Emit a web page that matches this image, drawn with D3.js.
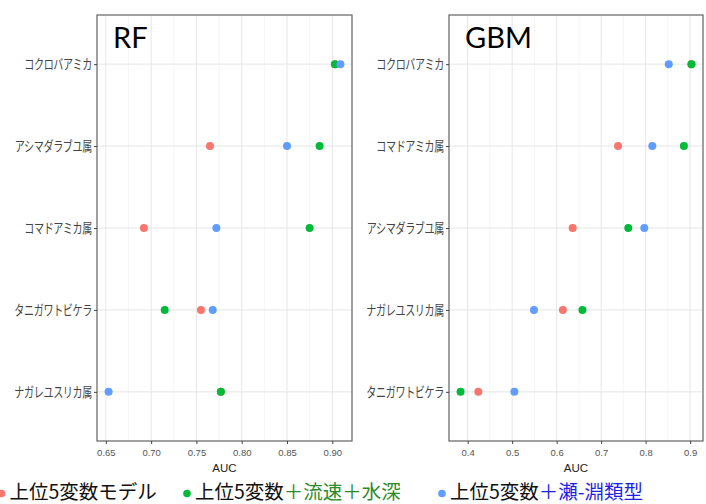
<!DOCTYPE html>
<html>
<head>
<meta charset="utf-8">
<script src="https://cdn.jsdelivr.net/npm/d3@7"></script>
<style>
  body { margin: 0; background: #fff; }
  svg { display: block; }
</style>
</head>
<body>
<div id="chart"></div>
<script>
// series (legend order)
const seriesNames = ['上位5変数モデル', '上位5変数＋流速＋水深', '上位5変数＋瀬-淵類型'];
const seriesColors = ['#F8766D', '#00BA38', '#619CFF'];

// RF panel, top to bottom
const rfCategories = ['コクロバアミカ', 'アシマダラブユ属', 'コマドアミカ属', 'タニガワトビケラ', 'ナガレユスリカ属'];
const rfBase = [0.903, 0.765, 0.692, 0.755, 0.777];
const rfFlow = [0.903, 0.886, 0.875, 0.715, 0.777];
const rfRiffle = [0.909, 0.850, 0.772, 0.768, 0.653];
const rfTicks = [0.65, 0.70, 0.75, 0.80, 0.85, 0.90];

// GBM panel, top to bottom
const gbmCategories = ['コクロバアミカ', 'コマドアミカ属', 'アシマダラブユ属', 'ナガレユスリカ属', 'タニガワトビケラ'];
const gbmBase = [0.903, 0.738, 0.636, 0.614, 0.424];
const gbmFlow = [0.903, 0.886, 0.761, 0.658, 0.384];
const gbmRiffle = [0.852, 0.815, 0.797, 0.549, 0.505];
const gbmTicks = [0.4, 0.5, 0.6, 0.7, 0.8, 0.9];

const W = 706, H = 504;
const svg = d3.select('#chart').append('svg')
  .attr('width', W).attr('height', H);

function drawPanel(opts) {
  const { left, right, top, bottom, title, categories, series, ticks, fmt } = opts;
  const all = series.flat();
  const lo = d3.min(all), hi = d3.max(all), pad = (hi - lo) * 0.05;

  const x = d3.scaleLinear().domain([lo - pad, hi + pad]).range([left, right]);
  const y = d3.scalePoint().domain(categories).range([top, bottom]).padding(0.6);

  const g = svg.append('g');

  // minor grid
  const minor = d3.pairs(ticks).map(p => (p[0] + p[1]) / 2);
  minor.unshift(ticks[0] - (ticks[1] - ticks[0]) / 2);
  minor.push(ticks[ticks.length - 1] + (ticks[1] - ticks[0]) / 2);
  g.selectAll('.minor').data(minor.filter(v => x(v) > left && x(v) < right))
    .enter().append('line')
    .attr('x1', d => x(d)).attr('x2', d => x(d))
    .attr('y1', top).attr('y2', bottom)
    .attr('stroke', '#f2f2f2').attr('stroke-width', 0.8);

  // major grid
  g.selectAll('.vmaj').data(ticks).enter().append('line')
    .attr('x1', d => x(d)).attr('x2', d => x(d))
    .attr('y1', top).attr('y2', bottom)
    .attr('stroke', '#e6e6e6').attr('stroke-width', 1);
  g.selectAll('.hmaj').data(categories).enter().append('line')
    .attr('x1', left).attr('x2', right)
    .attr('y1', d => y(d)).attr('y2', d => y(d))
    .attr('stroke', '#e6e6e6').attr('stroke-width', 1);

  // points
  series.forEach((vals, si) => {
    g.selectAll('.pt' + si).data(vals).enter().append('circle')
      .attr('cx', d => x(d))
      .attr('cy', (d, i) => y(categories[i]))
      .attr('r', 4)
      .attr('fill', seriesColors[si]);
  });

  // border
  g.append('rect')
    .attr('x', left).attr('y', top)
    .attr('width', right - left).attr('height', bottom - top)
    .attr('fill', 'none').attr('stroke', '#6e6e6e').attr('stroke-width', 1.3);

  // x axis
  const xa = g.append('g')
    .attr('transform', `translate(0,${bottom})`)
    .call(d3.axisBottom(x).tickValues(ticks).tickFormat(d3.format(fmt)).tickSize(3).tickSizeOuter(0));
  xa.select('.domain').remove();
  xa.selectAll('line').attr('stroke', '#444');
  xa.selectAll('text')
    .attr('fill', '#555')
    .attr('dy', '0.9em')
    .style('font-family', 'Liberation Sans, Arial, sans-serif')
    .style('font-size', '9.5px');

  // y axis
  const ya = g.append('g')
    .attr('transform', `translate(${left},0)`)
    .call(d3.axisLeft(y).tickSize(3).tickSizeOuter(0));
  ya.select('.domain').remove();
  ya.selectAll('line').attr('stroke', '#444');
  ya.selectAll('text')
    .attr('fill', '#444')
    .attr('x', -5 / 0.72)
    .attr('transform', 'scale(0.72,1)')
    .style('font-family', 'Noto Sans CJK JP, sans-serif')
    .style('font-size', '14px')
    .style('letter-spacing', '-0.5px');

  // axis title
  g.append('text')
    .attr('x', (left + right) / 2).attr('y', bottom + 31)
    .attr('text-anchor', 'middle')
    .attr('fill', '#222')
    .style('font-family', 'Liberation Sans, Arial, sans-serif')
    .style('font-size', '11.5px')
    .text('AUC');

  // panel title
  g.append('text')
    .attr('x', left + 16).attr('y', top + 33)
    .attr('fill', '#000')
    .style('font-family', 'Lato, Open Sans, sans-serif')
    .style('font-size', '29px')
    .text(title);
}

drawPanel({
  left: 97, right: 352, top: 15, bottom: 441,
  title: 'RF', categories: rfCategories,
  series: [rfBase, rfFlow, rfRiffle], ticks: rfTicks, fmt: '.2f'
});

drawPanel({
  left: 449, right: 703, top: 15, bottom: 441,
  title: 'GBM', categories: gbmCategories,
  series: [gbmBase, gbmFlow, gbmRiffle], ticks: gbmTicks, fmt: '.1f'
});

// legend
const legendX = [1.5, 187, 442];
const legendParts = [
  [['上位5変数モデル', '#111']],
  [['上位5変数', '#111'], ['＋流速＋水深', '#2a8a2a']],
  [['上位5変数', '#111'], ['＋瀬-淵類型', '#1f1fe6']]
];
const leg = svg.append('g');
legendParts.forEach((parts, i) => {
  leg.append('circle')
    .attr('cx', legendX[i]).attr('cy', 493.5).attr('r', 3.8)
    .attr('fill', seriesColors[i]);
  const t = leg.append('text')
    .attr('x', legendX[i] + 8).attr('y', 498.5)
    .style('font-family', 'Noto Sans CJK JP, sans-serif')
    .style('font-size', '19.5px');
  parts.forEach(p => t.append('tspan').attr('fill', p[1]).text(p[0]));
});
</script>
</body>
</html>
